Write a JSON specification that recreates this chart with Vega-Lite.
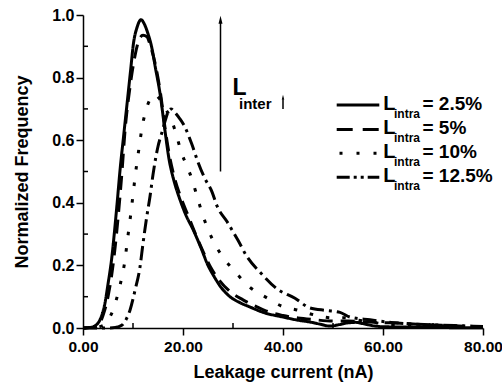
{
  "$schema": "https://vega.github.io/schema/vega-lite/v6.json",
  "width": 400,
  "height": 313,
  "autosize": {"type": "none"},
  "padding": {"left": 83, "top": 15, "right": 19, "bottom": 60},
  "background": "white",
  "data": {"values": [{}]},
  "config": {
    "view": {"stroke": null},
    "font": "Liberation Sans",
    "axis": {
      "grid": false,
      "domainColor": "black",
      "domainWidth": 1.5,
      "tickColor": "black",
      "tickWidth": 1.5,
      "tickSize": 7,
      "labelFont": "Liberation Sans",
      "labelFontSize": 16,
      "labelFontWeight": "bold",
      "labelColor": "black",
      "titleFont": "Liberation Sans",
      "titleFontSize": 18,
      "titleFontWeight": "bold",
      "titleColor": "black"
    }
  },
  "datasets": {
    "curves": [
      {"series": "2.5%", "x": 0, "y": 0},
      {"series": "2.5%", "x": 1.5, "y": 0.002},
      {"series": "2.5%", "x": 2.5, "y": 0.008},
      {"series": "2.5%", "x": 3.5, "y": 0.03},
      {"series": "2.5%", "x": 4.4, "y": 0.08},
      {"series": "2.5%", "x": 5.0, "y": 0.14},
      {"series": "2.5%", "x": 5.7, "y": 0.217},
      {"series": "2.5%", "x": 6.7, "y": 0.377},
      {"series": "2.5%", "x": 7.5, "y": 0.52},
      {"series": "2.5%", "x": 8.1, "y": 0.61},
      {"series": "2.5%", "x": 8.7, "y": 0.7},
      {"series": "2.5%", "x": 9.5, "y": 0.82},
      {"series": "2.5%", "x": 10.1, "y": 0.91},
      {"series": "2.5%", "x": 10.8, "y": 0.96},
      {"series": "2.5%", "x": 11.6, "y": 0.985},
      {"series": "2.5%", "x": 12.3, "y": 0.97},
      {"series": "2.5%", "x": 13.0, "y": 0.94},
      {"series": "2.5%", "x": 13.7, "y": 0.9},
      {"series": "2.5%", "x": 14.5, "y": 0.83},
      {"series": "2.5%", "x": 15.4, "y": 0.75},
      {"series": "2.5%", "x": 16.4, "y": 0.63},
      {"series": "2.5%", "x": 17.2, "y": 0.54},
      {"series": "2.5%", "x": 18.2, "y": 0.47},
      {"series": "2.5%", "x": 19.4, "y": 0.41},
      {"series": "2.5%", "x": 20.6, "y": 0.36},
      {"series": "2.5%", "x": 22.0, "y": 0.315},
      {"series": "2.5%", "x": 23.5, "y": 0.26},
      {"series": "2.5%", "x": 25.0, "y": 0.2},
      {"series": "2.5%", "x": 26.2, "y": 0.165},
      {"series": "2.5%", "x": 27.6, "y": 0.13},
      {"series": "2.5%", "x": 29.4, "y": 0.1},
      {"series": "2.5%", "x": 31.5, "y": 0.08},
      {"series": "2.5%", "x": 33.4, "y": 0.067},
      {"series": "2.5%", "x": 36.0, "y": 0.05},
      {"series": "2.5%", "x": 40.0, "y": 0.035},
      {"series": "2.5%", "x": 43.0, "y": 0.025},
      {"series": "2.5%", "x": 45.4, "y": 0.019},
      {"series": "2.5%", "x": 47.5, "y": 0.012},
      {"series": "2.5%", "x": 49.4, "y": 0.006},
      {"series": "2.5%", "x": 51.0, "y": 0.01},
      {"series": "2.5%", "x": 52.8, "y": 0.016},
      {"series": "2.5%", "x": 54.5, "y": 0.018},
      {"series": "2.5%", "x": 56.5, "y": 0.012},
      {"series": "2.5%", "x": 58.5, "y": 0.006},
      {"series": "2.5%", "x": 60.0, "y": 0.004},
      {"series": "2.5%", "x": 65.0, "y": 0.003},
      {"series": "2.5%", "x": 70.0, "y": 0.002},
      {"series": "2.5%", "x": 75.0, "y": 0.001},
      {"series": "2.5%", "x": 80.0, "y": 0.001},

      {"series": "5%", "x": 0, "y": 0},
      {"series": "5%", "x": 2.0, "y": 0.002},
      {"series": "5%", "x": 3.0, "y": 0.008},
      {"series": "5%", "x": 4.0, "y": 0.04},
      {"series": "5%", "x": 5.0, "y": 0.1},
      {"series": "5%", "x": 6.0, "y": 0.2},
      {"series": "5%", "x": 7.0, "y": 0.35},
      {"series": "5%", "x": 7.8, "y": 0.5},
      {"series": "5%", "x": 8.4, "y": 0.63},
      {"series": "5%", "x": 9.4, "y": 0.77},
      {"series": "5%", "x": 10.4, "y": 0.87},
      {"series": "5%", "x": 11.2, "y": 0.92},
      {"series": "5%", "x": 12.0, "y": 0.935},
      {"series": "5%", "x": 12.8, "y": 0.93},
      {"series": "5%", "x": 13.5, "y": 0.9},
      {"series": "5%", "x": 14.5, "y": 0.84},
      {"series": "5%", "x": 15.5, "y": 0.75},
      {"series": "5%", "x": 16.4, "y": 0.64},
      {"series": "5%", "x": 17.3, "y": 0.55},
      {"series": "5%", "x": 18.3, "y": 0.48},
      {"series": "5%", "x": 19.5, "y": 0.42},
      {"series": "5%", "x": 21.0, "y": 0.36},
      {"series": "5%", "x": 22.5, "y": 0.3},
      {"series": "5%", "x": 24.0, "y": 0.245},
      {"series": "5%", "x": 25.5, "y": 0.195},
      {"series": "5%", "x": 27.4, "y": 0.15},
      {"series": "5%", "x": 29.5, "y": 0.115},
      {"series": "5%", "x": 32.0, "y": 0.09},
      {"series": "5%", "x": 34.5, "y": 0.07},
      {"series": "5%", "x": 37.4, "y": 0.05},
      {"series": "5%", "x": 40.0, "y": 0.04},
      {"series": "5%", "x": 43.0, "y": 0.032},
      {"series": "5%", "x": 46.0, "y": 0.027},
      {"series": "5%", "x": 50.0, "y": 0.022},
      {"series": "5%", "x": 53.0, "y": 0.022},
      {"series": "5%", "x": 56.0, "y": 0.02},
      {"series": "5%", "x": 60.0, "y": 0.017},
      {"series": "5%", "x": 63.0, "y": 0.016},
      {"series": "5%", "x": 66.0, "y": 0.013},
      {"series": "5%", "x": 69.4, "y": 0.01},
      {"series": "5%", "x": 73.0, "y": 0.008},
      {"series": "5%", "x": 78.0, "y": 0.005},
      {"series": "5%", "x": 80.0, "y": 0.004},

      {"series": "10%", "x": 0, "y": 0},
      {"series": "10%", "x": 2.5, "y": 0.002},
      {"series": "10%", "x": 3.5, "y": 0.005},
      {"series": "10%", "x": 4.4, "y": 0.012},
      {"series": "10%", "x": 5.2, "y": 0.03},
      {"series": "10%", "x": 6.0, "y": 0.057},
      {"series": "10%", "x": 7.0, "y": 0.11},
      {"series": "10%", "x": 7.8, "y": 0.165},
      {"series": "10%", "x": 8.4, "y": 0.217},
      {"series": "10%", "x": 8.8, "y": 0.27},
      {"series": "10%", "x": 9.2, "y": 0.32},
      {"series": "10%", "x": 9.6, "y": 0.37},
      {"series": "10%", "x": 10.0, "y": 0.425},
      {"series": "10%", "x": 10.4, "y": 0.48},
      {"series": "10%", "x": 10.8, "y": 0.53},
      {"series": "10%", "x": 11.3, "y": 0.585},
      {"series": "10%", "x": 11.8, "y": 0.64},
      {"series": "10%", "x": 12.5, "y": 0.69},
      {"series": "10%", "x": 13.4, "y": 0.73},
      {"series": "10%", "x": 14.4, "y": 0.745},
      {"series": "10%", "x": 15.4, "y": 0.73},
      {"series": "10%", "x": 16.5, "y": 0.7},
      {"series": "10%", "x": 17.7, "y": 0.665},
      {"series": "10%", "x": 18.7, "y": 0.615},
      {"series": "10%", "x": 19.7, "y": 0.56},
      {"series": "10%", "x": 20.7, "y": 0.52},
      {"series": "10%", "x": 21.7, "y": 0.48},
      {"series": "10%", "x": 23.0, "y": 0.41},
      {"series": "10%", "x": 24.4, "y": 0.34},
      {"series": "10%", "x": 26.0, "y": 0.28},
      {"series": "10%", "x": 27.7, "y": 0.233},
      {"series": "10%", "x": 30.4, "y": 0.18},
      {"series": "10%", "x": 33.4, "y": 0.13},
      {"series": "10%", "x": 36.7, "y": 0.097},
      {"series": "10%", "x": 39.7, "y": 0.07},
      {"series": "10%", "x": 43.0, "y": 0.057},
      {"series": "10%", "x": 46.7, "y": 0.04},
      {"series": "10%", "x": 50.0, "y": 0.032},
      {"series": "10%", "x": 52.0, "y": 0.033},
      {"series": "10%", "x": 55.0, "y": 0.025},
      {"series": "10%", "x": 58.0, "y": 0.018},
      {"series": "10%", "x": 61.0, "y": 0.012},
      {"series": "10%", "x": 65.0, "y": 0.01},
      {"series": "10%", "x": 70.0, "y": 0.008},
      {"series": "10%", "x": 75.0, "y": 0.005},
      {"series": "10%", "x": 80.0, "y": 0.003},

      {"series": "12.5%", "x": 0, "y": 0},
      {"series": "12.5%", "x": 5.0, "y": 0},
      {"series": "12.5%", "x": 6.5, "y": 0.002},
      {"series": "12.5%", "x": 7.3, "y": 0.005},
      {"series": "12.5%", "x": 8.0, "y": 0.012},
      {"series": "12.5%", "x": 8.7, "y": 0.03},
      {"series": "12.5%", "x": 9.4, "y": 0.057},
      {"series": "12.5%", "x": 10.4, "y": 0.12},
      {"series": "12.5%", "x": 11.4, "y": 0.195},
      {"series": "12.5%", "x": 12.0, "y": 0.27},
      {"series": "12.5%", "x": 12.7, "y": 0.35},
      {"series": "12.5%", "x": 13.4, "y": 0.42},
      {"series": "12.5%", "x": 14.0, "y": 0.49},
      {"series": "12.5%", "x": 15.0, "y": 0.58},
      {"series": "12.5%", "x": 15.7, "y": 0.62},
      {"series": "12.5%", "x": 16.4, "y": 0.66},
      {"series": "12.5%", "x": 17.0, "y": 0.69},
      {"series": "12.5%", "x": 17.6, "y": 0.7},
      {"series": "12.5%", "x": 18.3, "y": 0.69},
      {"series": "12.5%", "x": 19.3, "y": 0.67},
      {"series": "12.5%", "x": 20.3, "y": 0.645},
      {"series": "12.5%", "x": 21.7, "y": 0.59},
      {"series": "12.5%", "x": 23.0, "y": 0.53},
      {"series": "12.5%", "x": 24.3, "y": 0.48},
      {"series": "12.5%", "x": 25.8, "y": 0.435},
      {"series": "12.5%", "x": 26.8, "y": 0.39},
      {"series": "12.5%", "x": 28.8, "y": 0.34},
      {"series": "12.5%", "x": 31.0, "y": 0.28},
      {"series": "12.5%", "x": 32.8, "y": 0.228},
      {"series": "12.5%", "x": 35.6, "y": 0.175},
      {"series": "12.5%", "x": 38.8, "y": 0.125},
      {"series": "12.5%", "x": 42.4, "y": 0.095},
      {"series": "12.5%", "x": 45.4, "y": 0.064},
      {"series": "12.5%", "x": 48.7, "y": 0.056},
      {"series": "12.5%", "x": 51.4, "y": 0.05},
      {"series": "12.5%", "x": 53.4, "y": 0.035},
      {"series": "12.5%", "x": 57.4, "y": 0.026},
      {"series": "12.5%", "x": 62.8, "y": 0.016},
      {"series": "12.5%", "x": 67.0, "y": 0.012},
      {"series": "12.5%", "x": 72.0, "y": 0.009},
      {"series": "12.5%", "x": 76.0, "y": 0.007},
      {"series": "12.5%", "x": 80.0, "y": 0.005}
    ],
    "minorX": [{"v": 10}, {"v": 30}, {"v": 50}, {"v": 70}],
    "minorY": [{"v": 0.1}, {"v": 0.3}, {"v": 0.5}, {"v": 0.7}, {"v": 0.9}]
  },
  "layer": [
    {
      "data": {"name": "curves"},
      "mark": {"type": "line", "strokeWidth": 3, "color": "black", "interpolate": "monotone"},
      "encoding": {
        "x": {
          "field": "x", "type": "quantitative",
          "scale": {"domain": [0, 80], "nice": false},
          "axis": {"values": [0, 20, 40, 60, 80], "format": ".2f", "title": "Leakage current (nA)", "labelFontSize": 15.5, "labelPadding": 4, "titlePadding": 9, "labelFlush": false}
        },
        "y": {
          "field": "y", "type": "quantitative",
          "scale": {"domain": [0, 1], "nice": false},
          "axis": {"values": [0, 0.2, 0.4, 0.6, 0.8, 1.0], "format": ".1f", "title": "Normalized Frequency", "labelPadding": 2, "titlePadding": 20}
        },
        "strokeDash": {
          "field": "series", "type": "nominal",
          "scale": {"domain": ["2.5%", "5%", "10%", "12.5%"], "range": [[1, 0], [14, 8], [3.5, 13], [14, 5, 3, 5]]},
          "legend": null
        }
      }
    },
    {
      "data": {"name": "minorX"},
      "mark": {"type": "rule", "color": "black", "strokeWidth": 1.5},
      "encoding": {
        "x": {"field": "v", "type": "quantitative"},
        "y": {"datum": 0},
        "y2": {"datum": 0.016}
      }
    },
    {
      "data": {"name": "minorY"},
      "mark": {"type": "rule", "color": "black", "strokeWidth": 1.5},
      "encoding": {
        "y": {"field": "v", "type": "quantitative"},
        "x": {"datum": 0},
        "x2": {"datum": 1.0}
      }
    },
    {
      "mark": {"type": "rule", "color": "black", "strokeWidth": 1.5},
      "encoding": {"x": {"datum": 27.5}, "y": {"datum": 0.5}, "y2": {"datum": 0.975}}
    },
    {
      "mark": {"type": "point", "shape": "M0,-1L0.5,1L-0.5,1Z", "filled": true, "color": "black", "size": 64, "opacity": 1},
      "encoding": {"x": {"datum": 27.5}, "y": {"datum": 0.985}}
    },
    {
      "mark": {"type": "rule", "color": "black", "strokeWidth": 1.5},
      "encoding": {"x": {"datum": 40}, "y": {"datum": 0.7}, "y2": {"datum": 0.73}}
    },
    {
      "mark": {"type": "point", "shape": "M0,-1L0.5,1L-0.5,1Z", "filled": true, "color": "black", "size": 25, "opacity": 1},
      "encoding": {"x": {"datum": 40}, "y": {"datum": 0.737}}
    },
    {
      "mark": {"type": "text", "text": "L", "font": "Liberation Sans", "fontWeight": "bold", "color": "black", "align": "left", "baseline": "alphabetic", "fontSize": 23},
      "encoding": {"x": {"datum": 29.9}, "y": {"datum": 0.744}}
    },
    {
      "mark": {"type": "text", "text": "inter", "font": "Liberation Sans", "fontWeight": "bold", "color": "black", "align": "left", "baseline": "alphabetic", "fontSize": 15},
      "encoding": {"x": {"datum": 31.2}, "y": {"datum": 0.7}}
    },

    {
      "mark": {"type": "rule", "color": "black", "strokeWidth": 3},
      "encoding": {"x": {"datum": 50.74}, "x2": {"datum": 59.26}, "y": {"datum": 0.7125}}
    },
    {
      "mark": {"type": "rule", "color": "black", "strokeWidth": 3, "strokeDash": [16, 10]},
      "encoding": {"x": {"datum": 50.74}, "x2": {"datum": 59.26}, "y": {"datum": 0.6342}}
    },
    {
      "mark": {"type": "rule", "color": "black", "strokeWidth": 3, "strokeDash": [3, 14]},
      "encoding": {"x": {"datum": 51.3}, "x2": {"datum": 59.26}, "y": {"datum": 0.5581}}
    },
    {
      "mark": {"type": "rule", "color": "black", "strokeWidth": 3, "strokeDash": [13, 4, 3, 4, 3, 4]},
      "encoding": {"x": {"datum": 50.74}, "x2": {"datum": 59.26}, "y": {"datum": 0.4815}}
    },

    {"mark": {"type": "text", "text": "L", "font": "Liberation Sans", "fontWeight": "bold", "color": "black", "align": "left", "baseline": "alphabetic", "fontSize": 20}, "encoding": {"x": {"datum": 60.06}, "y": {"datum": 0.6965}}},
    {"mark": {"type": "text", "text": "L", "font": "Liberation Sans", "fontWeight": "bold", "color": "black", "align": "left", "baseline": "alphabetic", "fontSize": 20}, "encoding": {"x": {"datum": 60.06}, "y": {"datum": 0.6188}}},
    {"mark": {"type": "text", "text": "L", "font": "Liberation Sans", "fontWeight": "bold", "color": "black", "align": "left", "baseline": "alphabetic", "fontSize": 20}, "encoding": {"x": {"datum": 60.06}, "y": {"datum": 0.5422}}},
    {"mark": {"type": "text", "text": "L", "font": "Liberation Sans", "fontWeight": "bold", "color": "black", "align": "left", "baseline": "alphabetic", "fontSize": 20}, "encoding": {"x": {"datum": 60.06}, "y": {"datum": 0.4674}}},

    {"mark": {"type": "text", "text": "intra", "font": "Liberation Sans", "fontWeight": "bold", "color": "black", "align": "left", "baseline": "alphabetic", "fontSize": 12}, "encoding": {"x": {"datum": 62.2}, "y": {"datum": 0.6705}}},
    {"mark": {"type": "text", "text": "intra", "font": "Liberation Sans", "fontWeight": "bold", "color": "black", "align": "left", "baseline": "alphabetic", "fontSize": 12}, "encoding": {"x": {"datum": 62.2}, "y": {"datum": 0.5928}}},
    {"mark": {"type": "text", "text": "intra", "font": "Liberation Sans", "fontWeight": "bold", "color": "black", "align": "left", "baseline": "alphabetic", "fontSize": 12}, "encoding": {"x": {"datum": 62.2}, "y": {"datum": 0.5162}}},
    {"mark": {"type": "text", "text": "intra", "font": "Liberation Sans", "fontWeight": "bold", "color": "black", "align": "left", "baseline": "alphabetic", "fontSize": 12}, "encoding": {"x": {"datum": 62.2}, "y": {"datum": 0.4414}}},

    {"mark": {"type": "text", "text": "= 2.5%", "font": "Liberation Sans", "fontWeight": "bold", "color": "black", "align": "left", "baseline": "alphabetic", "fontSize": 19}, "encoding": {"x": {"datum": 67.9}, "y": {"datum": 0.6965}}},
    {"mark": {"type": "text", "text": "= 5%", "font": "Liberation Sans", "fontWeight": "bold", "color": "black", "align": "left", "baseline": "alphabetic", "fontSize": 19}, "encoding": {"x": {"datum": 67.9}, "y": {"datum": 0.6188}}},
    {"mark": {"type": "text", "text": "= 10%", "font": "Liberation Sans", "fontWeight": "bold", "color": "black", "align": "left", "baseline": "alphabetic", "fontSize": 19}, "encoding": {"x": {"datum": 67.9}, "y": {"datum": 0.5422}}},
    {"mark": {"type": "text", "text": "= 12.5%", "font": "Liberation Sans", "fontWeight": "bold", "color": "black", "align": "left", "baseline": "alphabetic", "fontSize": 19}, "encoding": {"x": {"datum": 67.9}, "y": {"datum": 0.4674}}}
  ]
}
